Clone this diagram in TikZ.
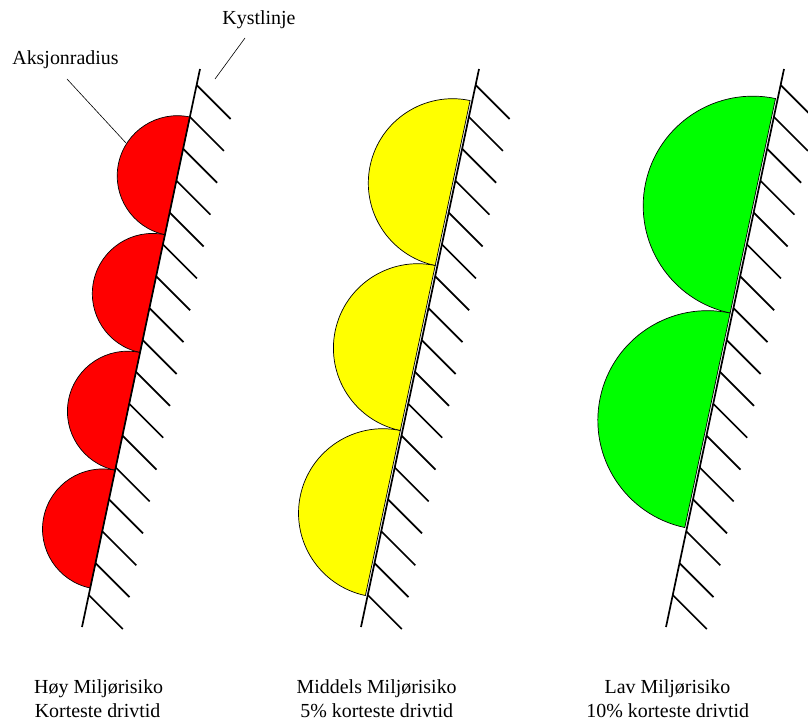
\documentclass[tikz,border=0pt]{standalone}
\usepackage{fontspec}
\setmainfont{Liberation Serif}
\definecolor{zonered}{RGB}{255,0,0}
\definecolor{zoneyellow}{RGB}{255,255,0}
\definecolor{zonegreen}{RGB}{0,255,0}
\tikzset{
  coast/.style={line width=1.7bp},
  hatchline/.style={line width=1.7bp},
  zone/.style={draw=black, line width=0.7bp},
  leader/.style={line width=0.6bp},
  caption/.style={font=\fontsize{20}{24}\selectfont, align=center, inner sep=0pt},
  tag/.style={font=\fontsize{20}{24}\selectfont, inner sep=0pt, anchor=base}
}
% #1 horizontal shift, #2 fill colour, #3 number of zones,
% #4 / #5 first and last chord end (y), #6 gap between chord and coast line
\newcommand{\drawcoast}[6]{%
  \foreach \i in {1,...,#3}{
    \pgfmathsetmacro{\ya}{#4+(\i-1)*(#5-#4)/#3}
    \pgfmathsetmacro{\yb}{#4+\i*(#5-#4)/#3}
    \pgfmathsetmacro{\xa}{200+#1-0.21147*(\ya-69)}
    \pgfmathsetmacro{\xb}{200+#1-0.21147*(\yb-69)}
    \pgfmathsetmacro{\rad}{0.5*veclen(\xb-\xa,\yb-\ya)}
    \path[zone, fill=#2] ([shift={(-0.9784*#6,-0.2069*#6)}]\xa,\ya)
      arc[start angle=-78.06, end angle=-258.06, radius=\rad] -- cycle;
  }
  \draw[coast] (200+#1,69) -- (82+#1,627);
  \foreach \k in {0,...,16}{
    \pgfmathsetmacro{\yh}{85+31.875*\k}
    \pgfmathsetmacro{\xh}{200+#1-0.21147*(\yh-69)}
    \draw[hatchline] (\xh,\yh) -- ++(34,34);
  }
}
\begin{document}
\begin{tikzpicture}[x=1bp,y=-1bp]
  \useasboundingbox (0,0) rectangle (808,721);
  \begin{scope}
    \clip (0,0) rectangle (808,721);
    % high risk: four small action-radius zones
    \drawcoast{0}{zonered}{4}{117}{588}{0}
    % medium risk: three zones
    \drawcoast{279}{zoneyellow}{3}{101}{596}{2.2}
    % low risk: two large zones
    \drawcoast{584}{zonegreen}{2}{99}{528}{2.2}
  \end{scope}

  % labels with leader lines
  \node[tag] (kyst) at (259,25) {Kystlinje};
  \coordinate (kystA) at (245,38);
  \coordinate (kystB) at (215,79);
  \draw[leader] (kystA) -- (kystB);

  \node[tag] (aksjon) at (65.5,65) {Aksjonradius};
  \coordinate (aksjonA) at (67,79);
  \coordinate (aksjonB) at (126,143);
  \draw[leader] (aksjonA) -- (aksjonB);

  % captions
  \node[tag] (hoy1) at (98.7,693) {Høy Miljørisiko};
  \node[tag] (hoy2) at (97.6,717) {Korteste drivtid};
  \node[tag] (mid1) at (376.7,693) {Middels Miljørisiko};
  \node[tag] (mid2) at (376.7,717) {5\%\ korteste drivtid};
  \node[tag] (lav1) at (667.5,693) {Lav Miljørisiko};
  \node[tag] (lav2) at (667.7,717) {10\% korteste drivtid};
\end{tikzpicture}
\end{document}
